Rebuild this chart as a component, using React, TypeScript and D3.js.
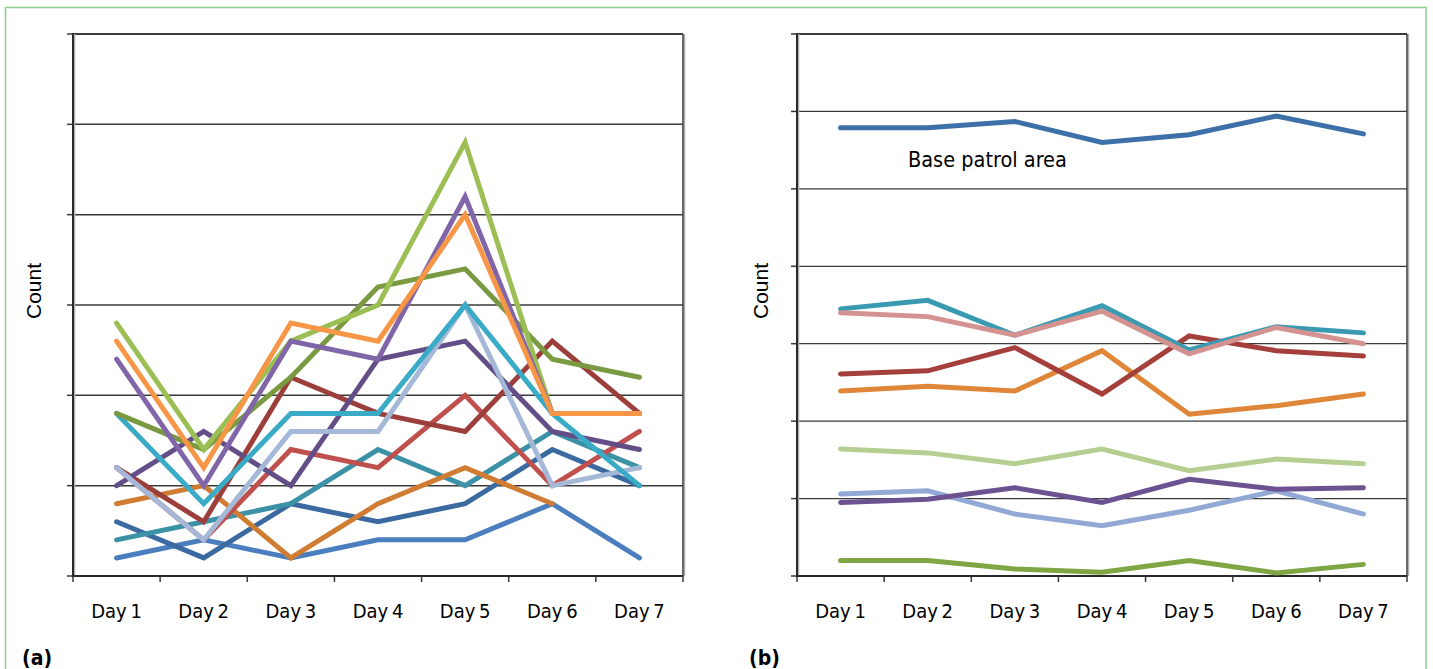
import React from "react";
import * as d3 from "d3";

const days = ["Day 1", "Day 2", "Day 3", "Day 4", "Day 5", "Day 6", "Day 7"];

// Panel (a) series (counts)
const aBlue = [1, 2, 1, 2, 2, 4, 1];
const aDarkBlue = [3, 1, 4, 3, 4, 7, 5];
const aTeal = [2, 3, 4, 7, 5, 8, 6];
const aDarkOrange: (number | null)[] = [4, 5, 1, 4, 6, 4, null];
const aRed = [6, 2, 7, 6, 10, 5, 8];
const aDarkRed = [6, 3, 11, 9, 8, 13, 9];
const aDarkPurple = [5, 8, 5, 12, 13, 8, 7];
const aLightBlue = [6, 2, 8, 8, 15, 5, 6];
const aCyan = [9, 4, 9, 9, 15, 9, 5];
const aOlive = [9, 7, 11, 16, 17, 12, 11];
const aLightGreen = [14, 7, 13, 15, 24, 9, 9];
const aLightPurple = [12, 5, 13, 12, 21, 9, 9];
const aOrange = [13, 6, 14, 13, 20, 9, 9];

// Panel (b) series
const bGreen = [2.0, 2.0, 0.9, 0.5, 2.0, 0.4, 1.5];
const bLightBlue = [10.6, 11.0, 8.0, 6.5, 8.5, 11.0, 8.0];
const bPurple = [9.5, 9.9, 11.4, 9.5, 12.5, 11.2, 11.4];
const bLightGreen = [16.4, 15.9, 14.5, 16.4, 13.6, 15.1, 14.5];
const bOrange = [23.9, 24.5, 23.9, 29.1, 20.9, 22.0, 23.5];
const bDarkRed = [26.1, 26.5, 29.5, 23.5, 31.0, 29.1, 28.4];
const bTeal = [34.5, 35.6, 31.1, 34.9, 29.2, 32.2, 31.4];
const bPink = [34.0, 33.5, 31.1, 34.2, 28.7, 32.1, 30.0];
const bBase = [57.9, 57.9, 58.7, 56.0, 57.0, 59.4, 57.1];

const aTicks = [0, 5, 10, 15, 20, 25, 30];
const bTicks = [0, 10, 20, 30, 40, 50, 60, 70];

const seriesA = [
  { v: aBlue, c: "#4a7ebf" },
  { v: aDarkBlue, c: "#3b6aa0" },
  { v: aTeal, c: "#3b91a6" },
  { v: aDarkOrange, c: "#d07c32" },
  { v: aRed, c: "#c0504d" },
  { v: aDarkRed, c: "#9c3e3b" },
  { v: aDarkPurple, c: "#634e87" },
  { v: aLightBlue, c: "#a6b8d8" },
  { v: aCyan, c: "#3aabc6" },
  { v: aOlive, c: "#7a9a41" },
  { v: aLightGreen, c: "#9cbf55" },
  { v: aLightPurple, c: "#8066a8" },
  { v: aOrange, c: "#f79646" },
];

const seriesB = [
  { v: bGreen, c: "#7ea644" },
  { v: bLightBlue, c: "#91a9d4" },
  { v: bPurple, c: "#6c5290" },
  { v: bLightGreen, c: "#b5cf92" },
  { v: bOrange, c: "#e08638" },
  { v: bDarkRed, c: "#a53f3b" },
  { v: bTeal, c: "#3a9ab2" },
  { v: bPink, c: "#d49290" },
  { v: bBase, c: "#3d6fa8" },
];

const NARROW = "'DejaVu Sans Condensed', 'Liberation Sans', sans-serif";
const FONT = "'Liberation Sans', Arial, sans-serif";

type Panel = {
  x0: number;
  x1: number;
  y0: number;
  y1: number;
  ticks: number[];
  series: { v: (number | null)[]; c: string }[];
  label: string;
  countX: number;
  labelX: number;
  gridW: number;
};

function ChartPanel({ p }: { p: Panel }) {
  const x = d3.scaleBand<string>().domain(days).range([p.x0, p.x1]);
  const y = d3
    .scaleLinear()
    .domain([p.ticks[0], p.ticks[p.ticks.length - 1]])
    .range([p.y1, p.y0]);
  const line = d3
    .line<number | null>()
    .defined((d) => d !== null)
    .x((_, i) => (x(days[i]) as number) + x.bandwidth() / 2)
    .y((d) => y(d as number));
  const bounds = days.map((d) => x(d) as number).concat([p.x1]);
  return (
    <g>
      {p.ticks.map((t) => (
        <g key={t}>
          <line
            x1={p.x0}
            x2={p.x1}
            y1={y(t)}
            y2={y(t)}
            stroke="#3a3a3a"
            strokeWidth={t === p.ticks[p.ticks.length - 1] ? 2 : p.gridW}
          />
          <line x1={p.x0 - 6} x2={p.x0} y1={y(t)} y2={y(t)} stroke="#3a3a3a" strokeWidth={1.5} />
        </g>
      ))}
      {bounds.map((b, i) => (
        <line key={i} x1={b} x2={b} y1={p.y1} y2={p.y1 + 6} stroke="#3a3a3a" strokeWidth={1.5} />
      ))}
      <line x1={p.x1 + 1.5} x2={p.x1 + 1.5} y1={p.y0} y2={p.y1} stroke="#b0b0b0" strokeWidth={1.5} />
      <line x1={p.x1} x2={p.x1} y1={p.y0} y2={p.y1} stroke="#3a3a3a" strokeWidth={1.5} />
      <line x1={p.x0 + 1.5} x2={p.x0 + 1.5} y1={p.y0} y2={p.y1} stroke="#b0b0b0" strokeWidth={1.5} />
      <line x1={p.x0} x2={p.x0} y1={p.y0 - 1} y2={p.y1 + 1} stroke="#2a2a2a" strokeWidth={2} />
      <line x1={p.x0} x2={p.x1} y1={p.y1} y2={p.y1} stroke="#2a2a2a" strokeWidth={2} />
      {p.series.map((s, i) => (
        <path
          key={i}
          d={line(s.v) || ""}
          fill="none"
          stroke={s.c}
          strokeWidth={5}
          strokeLinejoin="miter"
          strokeLinecap="round"
        />
      ))}
      {days.map((d) => (
        <text
          key={d}
          x={(x(d) as number) + x.bandwidth() / 2}
          y={618}
          textAnchor="middle"
          fontFamily={NARROW}
          fontSize={20}
          wordSpacing={-2}
          fill="#000"
        >
          {d}
        </text>
      ))}
      <text
        transform={`translate(${p.countX},291) rotate(-90)`}
        textAnchor="middle"
        fontFamily={FONT}
        fontSize={21}
        fill="#000"
      >
        Count
      </text>
      <text x={p.labelX} y={665} fontFamily={NARROW} fontSize={21} fontWeight="bold" fill="#000">
        {p.label}
      </text>
    </g>
  );
}

export default function App() {
  const pa: Panel = {
    x0: 73,
    x1: 683,
    y0: 34,
    y1: 576,
    ticks: aTicks,
    series: seriesA,
    label: "(a)",
    countX: 41,
    labelX: 22,
    gridW: 1.5,
  };
  const pb: Panel = {
    x0: 797,
    x1: 1407,
    y0: 34,
    y1: 576,
    ticks: bTicks,
    series: seriesB,
    label: "(b)",
    countX: 768,
    labelX: 749,
    gridW: 1.3,
  };
  return (
    <svg
      width={1433}
      height={669}
      style={{ position: "absolute", left: 0, top: 0, background: "#fff" }}
    >
      <rect x={0} y={0} width={1433} height={669} fill="#fff" />
      <rect x={5.5} y={7.5} width={1420.5} height={700} fill="none" stroke="#8ccf8c" strokeWidth={1.5} />
      <ChartPanel p={pa} />
      <ChartPanel p={pb} />
      <text x={908} y={167} fontFamily={NARROW} fontSize={21.5} fill="#000">
        Base patrol area
      </text>
    </svg>
  );
}
